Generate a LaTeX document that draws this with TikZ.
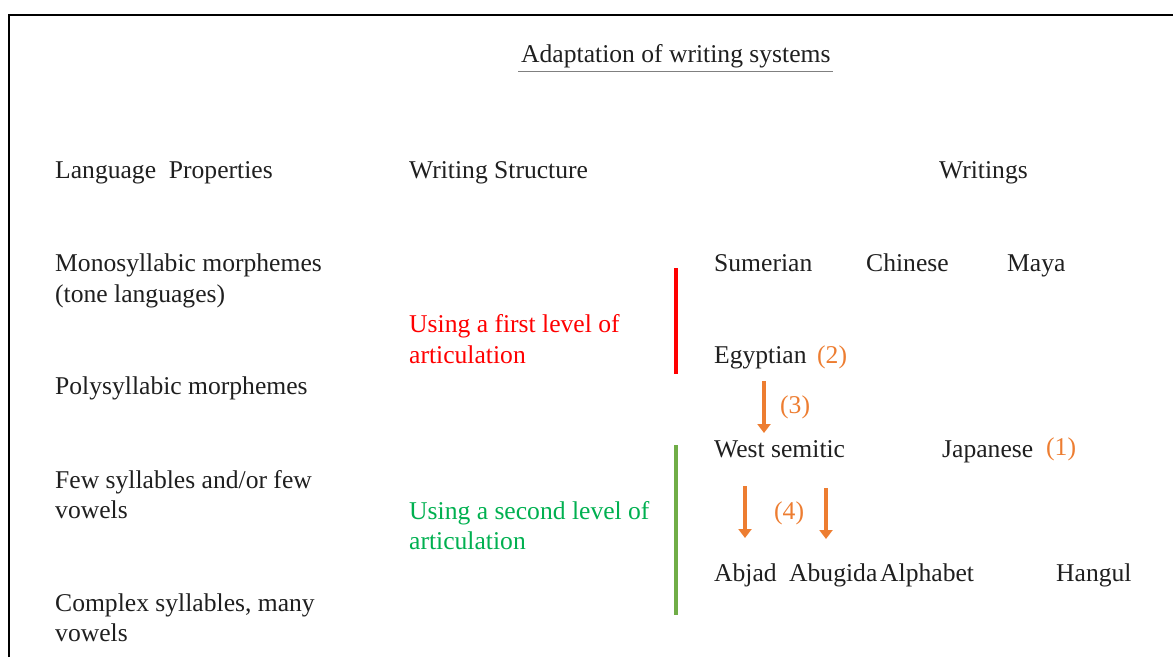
\documentclass[tikz,border=0pt]{standalone}
\usepackage{fontspec}
\setmainfont{Liberation Serif}
\usetikzlibrary{arrows.meta}
\definecolor{myorange}{HTML}{ED7D31}
\definecolor{myred}{HTML}{FF0000}
\definecolor{mygreentext}{HTML}{00B050}
\definecolor{mygreenline}{HTML}{70AD47}
\begin{document}
\begin{tikzpicture}[x=1pt,y=-1pt,
  txt/.style={anchor=base west,inner sep=0pt,font=\fontsize{25.6}{30.5}\selectfont,text=black!88},
  redtxt/.style={txt,text=myred},
  greentxt/.style={txt,text=mygreentext},
  num/.style={txt,text=myorange},
  orarrow/.style={draw=myorange,line width=4.5pt,-{Triangle[width=13pt,length=9pt]}},
  bar/.style={line width=3.5pt}
]
\useasboundingbox (0,0) rectangle (1173,657);
% frame
\draw[line width=2pt] (9,657) -- (9,15) -- (1173,15);
% title
\node[txt] (title) at (521,62) {Adaptation of writing systems};
\draw[line width=1.6pt,black!50] (518,71.5) -- (833,71.5);
% headers
\node[txt] (h1) at (55,178) {Language\ \ Properties};
\node[txt] (h2) at (409,178) {Writing Structure};
\node[txt] (h3) at (939,178) {Writings};
% language properties
\node[txt] (lp1a) at (55,271) {Monosyllabic morphemes};
\node[txt] (lp1b) at (55,302) {(tone languages)};
\node[txt] (lp2) at (55,394) {Polysyllabic morphemes};
\node[txt] (lp3a) at (55,488) {Few syllables and/or few};
\node[txt] (lp3b) at (55,518) {vowels};
\node[txt] (lp4a) at (55,611) {Complex syllables, many};
\node[txt] (lp4b) at (55,641) {vowels};
% writing structure
\node[redtxt] (ws1a) at (409,332) {Using a first level of};
\node[redtxt] (ws1b) at (409,363) {articulation};
\node[greentxt] (ws2a) at (409,519) {Using a second level of};
\node[greentxt] (ws2b) at (409,549) {articulation};
% bars
\coordinate (r1) at (676,268);
\coordinate (r2) at (676,374);
\coordinate (g1) at (676,445);
\coordinate (g2) at (676,615);
\draw[bar,myred] (r1) -- (r2);
\draw[bar,mygreenline] (g1) -- (g2);
% writings
\node[txt] (sum) at (714,271) {Sumerian};
\node[txt] (chi) at (866,271) {Chinese};
\node[txt] (may) at (1007,271) {Maya};
\node[txt] (egy) at (714,363) {Egyptian};
\node[num] (n2) at (817,363) {(2)};
\node[txt] (wsem) at (714,457) {West semitic};
\node[txt] (jap) at (942,457) {Japanese};
\node[num] (n1) at (1046,455) {(1)};
\node[num] (n3) at (780,413) {(3)};
\node[num] (n4) at (774,519) {(4)};
\node[txt] (abj) at (714,581) {Abjad};
\node[txt] (abu) at (789,581) {Abugida};
\node[txt] (alp) at (880,581) {Alphabet};
\node[txt] (han) at (1056,581) {Hangul};
% arrows
\coordinate (a3s) at (764,381);
\coordinate (a3e) at (764,433);
\coordinate (a4s) at (745,486);
\coordinate (a4e) at (745,538);
\coordinate (a5s) at (826,488);
\coordinate (a5e) at (826,539);
\draw[orarrow] (a3s) -- (a3e);
\draw[orarrow] (a4s) -- (a4e);
\draw[orarrow] (a5s) -- (a5e);
\end{tikzpicture}
\end{document}
